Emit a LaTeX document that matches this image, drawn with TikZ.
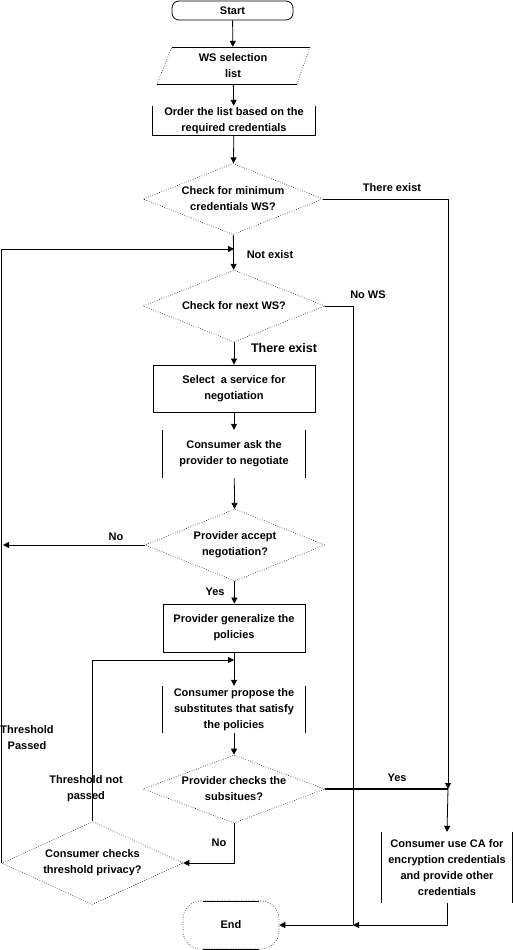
\documentclass[tikz,border=0pt]{standalone}
\usepackage{fontspec}
\setmainfont{Liberation Sans}
\usetikzlibrary{arrows.meta,shapes.geometric}
\begin{document}
\begin{tikzpicture}[x=1pt,y=-1pt,
  every node/.style={font=\fontsize{11}{16}\selectfont\bfseries, align=center, inner sep=0pt},
  line/.style={line width=0.8pt},
  arr/.style={line width=0.8pt,-{Triangle[length=6pt,width=6pt]}},
  dec/.style={diamond, draw, line width=0.6pt, dash pattern=on 0.6pt off 1.8pt, aspect=2.5},
  box/.style={rectangle, draw, line width=0.8pt},
  sidebox/.style={rectangle},
  lbl/.style={font=\fontsize{11}{16}\selectfont\bfseries}
]
\useasboundingbox (0,0) rectangle (513,950);

% nodes
\node[rectangle, draw, line width=0.8pt, rounded corners=7pt, minimum width=121pt, minimum height=19pt] (start) at (232.5,10.5) {Start};
\node[sidebox, minimum width=140pt, minimum height=37pt] (wslist) at (233,65.5) {WS selection\\list};
\node[sidebox, minimum width=163pt, minimum height=29pt] (order) at (234,120.5) {Order the list based on the\\required credentials};
\node[dec, minimum width=180pt, minimum height=71pt] (d1) at (233,199) {Check for minimum\\credentials WS?};
\node[dec, minimum width=182pt, minimum height=72pt] (d2) at (234,306) {Check for next WS?};
\node[box, minimum width=162pt, minimum height=47pt] (select) at (234,388.5) {Select\ \ a service for\\negotiation};
\node[sidebox, minimum width=142pt, minimum height=48pt] (ask) at (234,454) {Consumer ask the\\provider to negotiate};
\node[dec, minimum width=180pt, minimum height=72pt] (d3) at (235,545) {Provider accept\\negotiation?};
\node[box, minimum width=142pt, minimum height=48pt] (gen) at (234,628) {Provider generalize the\\policies};
\node[sidebox, minimum width=142pt, minimum height=47pt] (propose) at (234,709.5) {Consumer propose the\\substitutes that satisfy\\the policies};
\node[dec, minimum width=182pt, minimum height=68pt] (d4) at (234,789) {Provider checks the\\subsitues?};
\node[dec, minimum width=181pt, minimum height=83pt] (d5) at (92.5,863) {Consumer checks\\threshold privacy?};
\node[sidebox, minimum width=130pt, minimum height=71pt] (ca) at (447,867.5) {Consumer use CA for\\encryption credentials\\and provide other\\credentials};
\node[rectangle, draw, line width=0.6pt, dash pattern=on 0.6pt off 1.8pt, rounded corners=18pt, minimum width=96pt, minimum height=48pt] (end) at (231,925) {End};

% partial outlines
\draw[line] (172,47) -- (310,47) (157,84) -- (297,84);
\draw[line width=0.6pt, dash pattern=on 0.6pt off 1.8pt] (157,84) -- (172,47) (297,84) -- (310,47);
\draw[line] (order.north west) -- (order.south west) -- (order.south east) -- (order.north east);
\draw[line] (ask.north west) -- (ask.south west) (ask.north east) -- (ask.south east);
\draw[line] (propose.north west) -- (propose.south west) (propose.north east) -- (propose.south east);
\draw[line] (ca.north west) -- (ca.south west) (ca.north east) -- (ca.south east);
\draw[line] (203,901) -- (259,901) (203,949) -- (259,949);

% junction coordinates
\coordinate (m1) at (234,249);
\coordinate (m2) at (234,660);
\coordinate (j1) at (448,789);
\coordinate (j2) at (353,925);
\coordinate (lx) at (3,545);

% connectors
\draw[arr] (start) -- (wslist);
\draw[arr] (wslist) -- (order);
\draw[arr] (order) -- (d1);
\draw[arr] (d1.east) -| (j1);
\draw[arr] (j1) -- (ca.north);
\draw[arr] (d1) -- (d2);
\draw[arr] (d5.west) |- (m1);
\draw[line] (d2.east) -| (j2);
\draw[arr] (ca.south) |- (j2);
\draw[arr] (j2) -- (end.east);
\draw[arr] (d2) -- (select);
\draw[arr] (select) -- (ask);
\draw[arr] (ask) -- (d3);
\draw[arr] (d3.west) -- (lx);
\draw[arr] (d3) -- (gen);
\draw[arr] (gen) -- (propose);
\draw[arr] (d5.north) |- (m2);
\draw[arr] (propose) -- (d4);
\draw[line width=1.6pt] (d4.east) -- (j1);
\draw[arr] (d4.south) |- (d5.east);

% labels
\node[lbl] (l1) at (392,188) {There exist};
\node[lbl] (l2) at (270,255) {Not exist};
\node[lbl] (l3) at (368,295) {No WS};
\node[lbl, font=\fontsize{12.5}{16}\selectfont\bfseries] (l4) at (284,348) {There exist};
\node[lbl] (l5) at (116,537) {No};
\node[lbl] (l6) at (215,592) {Yes};
\node[lbl] (l7) at (27,738) {Threshold\\Passed};
\node[lbl] (l8) at (86,789) {Threshold not\\passed};
\node[lbl] (l9) at (397,778) {Yes};
\node[lbl] (l10) at (219,843) {No};
\end{tikzpicture}
\end{document}
